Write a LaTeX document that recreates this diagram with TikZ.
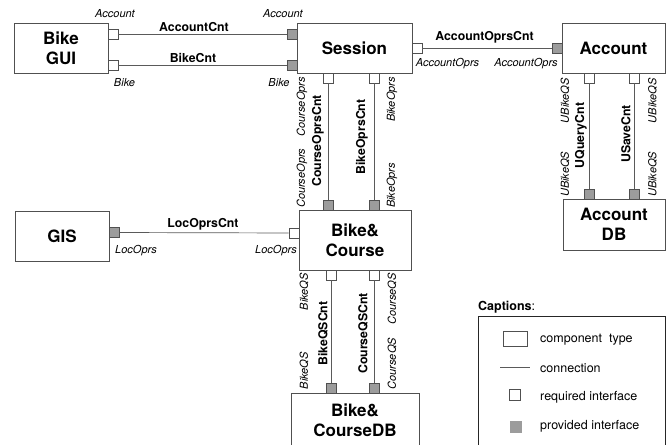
\documentclass[tikz,border=0pt]{standalone}
\usepackage{fontspec}
\setmainfont{TeX Gyre Heros}
\definecolor{boxgray}{HTML}{505050}
\definecolor{linegray}{HTML}{5A5A5A}
\definecolor{portgray}{HTML}{9C9C9C}
\tikzset{
  comp/.style={draw=boxgray, fill=white, line width=0.8pt, inner sep=0pt, align=center, font=\bfseries\fontsize{17}{20}\selectfont},
  req/.style={draw=boxgray, fill=white, line width=0.7pt, minimum size=10pt, inner sep=0pt},
  prov/.style={req, fill=portgray},
  conn/.style={draw=linegray, line width=0.7pt},
  ifc/.style={font=\itshape\fontsize{11}{13}\selectfont, inner sep=0pt},
  cnt/.style={font=\bfseries\fontsize{12.3}{14}\selectfont, inner sep=0pt},
  capt/.style={font=\fontsize{12.5}{15}\selectfont, inner sep=0pt, anchor=west},
}
\begin{document}
\begin{tikzpicture}[x=1pt,y=-1pt]
\useasboundingbox (0,0) rectangle (668,444);
\node[comp, minimum width=94pt, minimum height=50pt] (gui) at (61,48) {Bike\\GUI};
\node[comp, minimum width=115pt, minimum height=50pt] (ses) at (354.5,48) {Session};
\node[comp, minimum width=103pt, minimum height=50pt] (acc) at (613.5,48) {Account};
\node[comp, minimum width=102pt, minimum height=51pt] (accdb) at (614,224.5) {Account\\DB};
\node[comp, minimum width=94pt, minimum height=50pt] (gis) at (62,236) {GIS};
\node[comp, minimum width=112pt, minimum height=60pt] (bc) at (355,240) {Bike\&\\Course};
\node[comp, minimum width=128pt, minimum height=54pt] (bcdb) at (355,420) {Bike\&\\CourseDB};
% interfaces
\node[req] (guiA) at (113,34) {};
\node[req] (guiB) at (113,65) {};
\node[prov] (sesA) at (292,34) {};
\node[prov] (sesB) at (292,65) {};
\node[req] (sesC) at (417,48) {};
\node[prov] (accA) at (557,48) {};
\node[req] (sesD) at (328.5,78) {};
\node[req] (sesE) at (374.5,78) {};
\node[prov] (bcA) at (328.5,205) {};
\node[prov] (bcB) at (374.5,205) {};
\node[req] (bcC) at (294,233) {};
\node[prov] (gisA) at (114.5,232.5) {};
\node[req] (bcD) at (331.5,275) {};
\node[req] (bcE) at (374.5,275) {};
\node[prov] (bcdbA) at (331.5,388) {};
\node[prov] (bcdbB) at (374.5,388) {};
\node[req] (accB) at (589,78) {};
\node[req] (accC) at (634,78) {};
\node[prov] (accdbA) at (589,194) {};
\node[prov] (accdbB) at (634,194) {};
% connections
\draw[conn] (guiA) -- (sesA);
\draw[conn] (guiB) -- (sesB);
\draw[conn] (sesC) -- (accA);
\draw[conn] (sesD) -- (bcA);
\draw[conn] (sesE) -- (bcB);
\draw[conn] (gisA) -- (bcC);
\draw[conn] (bcD) -- (bcdbA);
\draw[conn] (bcE) -- (bcdbB);
\draw[conn] (accB) -- (accdbA);
\draw[conn] (accC) -- (accdbB);
% connection names
\node[cnt] (cAcc) at (194,27) {AccountCnt};
\node[cnt] (cBike) at (193,57.5) {BikeCnt};
\node[cnt] (cAccOp) at (484.5,37.5) {AccountOprsCnt};
\node[cnt] (cLoc) at (203,224) {LocOprsCnt};
\node[cnt, rotate=90] (cCourseOp) at (318,141) {CourseOprsCnt};
\node[cnt, rotate=90] (cBikeOp) at (362,137) {BikeOprsCnt};
\node[cnt, rotate=90] (cBikeQS) at (323,333.5) {BikeQSCnt};
\node[cnt, rotate=90] (cCourseQS) at (363,333.5) {CourseQSCnt};
\node[cnt, rotate=90] (cUQuery) at (581,135.5) {UQueryCnt};
\node[cnt, rotate=90] (cUSave) at (626,134) {USaveCnt};
% interface names
\node[ifc] (lAcc1) at (115,13.5) {Account};
\node[ifc] (lAcc2) at (283,13.5) {Account};
\node[ifc] (lBike1) at (124.5,83) {Bike};
\node[ifc] (lBike2) at (279,83) {Bike};
\node[ifc] (lAccOp1) at (447.5,64) {AccountOprs};
\node[ifc] (lAccOp2) at (526,64) {AccountOprs};
\node[ifc] (lLoc1) at (136,251) {LocOprs};
\node[ifc] (lLoc2) at (276,251) {LocOprs};
\node[ifc, rotate=90, anchor=east] (lCo1) at (302,77) {CourseOprs};
\node[ifc, rotate=90, anchor=west] (lCo2) at (302,208) {CourseOprs};
\node[ifc, rotate=90, anchor=east] (lBo1) at (392,77) {BikeOprs};
\node[ifc, rotate=90, anchor=west] (lBo2) at (392,208) {BikeOprs};
\node[ifc, rotate=90, anchor=east] (lBq1) at (304,273) {BikeQS};
\node[ifc, rotate=90, anchor=west] (lBq2) at (304,389.5) {BikeQS};
\node[ifc, rotate=90, anchor=east] (lCq1) at (392,273) {CourseQS};
\node[ifc, rotate=90, anchor=west] (lCq2) at (392,389.5) {CourseQS};
\node[ifc, rotate=90, anchor=east] (lUq1) at (565,78) {UBikeQS};
\node[ifc, rotate=90, anchor=west] (lUq2) at (565,197) {UBikeQS};
\node[ifc, rotate=90, anchor=east] (lUs1) at (652.5,78) {UBikeQS};
\node[ifc, rotate=90, anchor=west] (lUs2) at (652.5,197) {UBikeQS};
% captions
\node[capt] (captT) at (478,307) {\textbf{Captions}:};
\node[draw=black!85, line width=1.2pt, minimum width=187pt, minimum height=150pt, anchor=north west, inner sep=0pt] (legend) at (478,316) {};
\node[draw=boxgray, line width=0.7pt, minimum width=24pt, minimum height=15pt, inner sep=0pt] (lgComp) at (515,338.5) {};
\coordinate (lgL) at (500,367);
\coordinate (lgR) at (530,367);
\draw[conn] (lgL) -- (lgR);
\node[req, minimum size=11pt] (lgReq) at (515,394.5) {};
\node[prov, minimum size=11pt, draw=portgray] (lgProv) at (515.5,426.5) {};
\node[capt] (tComp) at (540,339.5) {component\ \ type};
\node[capt] (tConn) at (540,368) {connection};
\node[capt] (tReq) at (540,397.5) {required interface};
\node[capt] (tProv) at (540,426.5) {provided interface};
\end{tikzpicture}
\end{document}
